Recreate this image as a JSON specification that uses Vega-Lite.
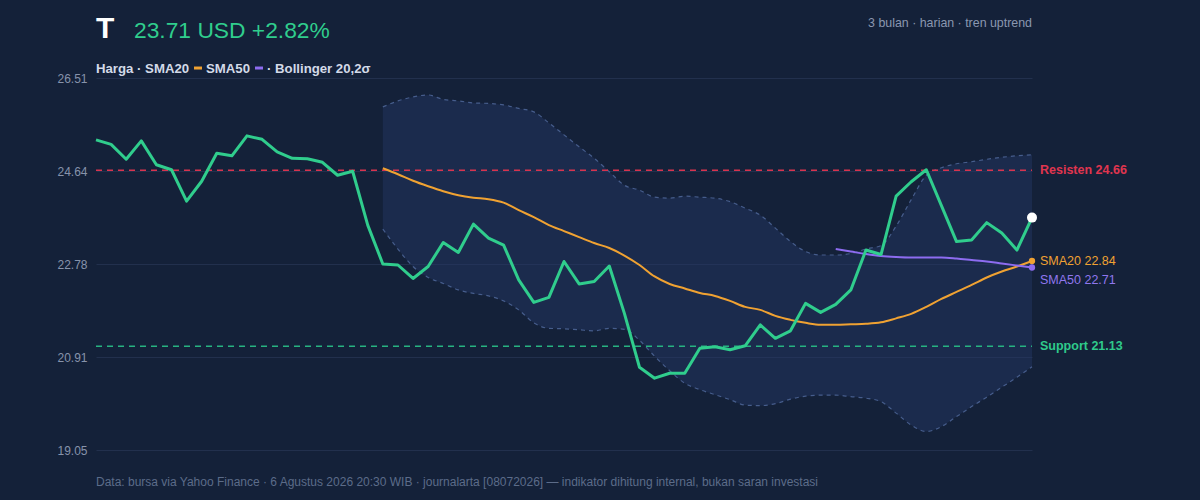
{
  "$schema": "https://vega.github.io/schema/vega-lite/v6.json",
  "width": 936,
  "height": 372,
  "autosize": {"type": "none"},
  "padding": {"left": 96, "top": 78, "right": 168, "bottom": 50},
  "background": "#142139",
  "config": {
    "view": {"stroke": null},
    "font": "Liberation Sans",
    "text": {"font": "Liberation Sans"}
  },
  "datasets": {
    "series": [
      {"i": 0, "price": 25.27},
      {"i": 1, "price": 25.18},
      {"i": 2, "price": 24.88},
      {"i": 3, "price": 25.25},
      {"i": 4, "price": 24.77},
      {"i": 5, "price": 24.67},
      {"i": 6, "price": 24.04},
      {"i": 7, "price": 24.44},
      {"i": 8, "price": 25.0},
      {"i": 9, "price": 24.95},
      {"i": 10, "price": 25.35},
      {"i": 11, "price": 25.28},
      {"i": 12, "price": 25.03},
      {"i": 13, "price": 24.9},
      {"i": 14, "price": 24.89},
      {"i": 15, "price": 24.82},
      {"i": 16, "price": 24.56},
      {"i": 17, "price": 24.64},
      {"i": 18, "price": 23.56},
      {"i": 19, "price": 22.78, "sma20": 24.7, "upper": 25.93, "lower": 23.48},
      {"i": 20, "price": 22.76, "sma20": 24.58, "upper": 26.05, "lower": 23.08},
      {"i": 21, "price": 22.49, "sma20": 24.45, "upper": 26.13, "lower": 22.73},
      {"i": 22, "price": 22.73, "sma20": 24.34, "upper": 26.17, "lower": 22.51},
      {"i": 23, "price": 23.21, "sma20": 24.24, "upper": 26.08, "lower": 22.39},
      {"i": 24, "price": 23.01, "sma20": 24.16, "upper": 26.05, "lower": 22.26},
      {"i": 25, "price": 23.58, "sma20": 24.11, "upper": 26.01, "lower": 22.19},
      {"i": 26, "price": 23.3, "sma20": 24.08, "upper": 26.0, "lower": 22.14},
      {"i": 27, "price": 23.16, "sma20": 24.01, "upper": 25.97, "lower": 22.04},
      {"i": 28, "price": 22.46, "sma20": 23.86, "upper": 25.9, "lower": 21.86},
      {"i": 29, "price": 22.01, "sma20": 23.72, "upper": 25.83, "lower": 21.6},
      {"i": 30, "price": 22.11, "sma20": 23.56, "upper": 25.61, "lower": 21.49},
      {"i": 31, "price": 22.83, "sma20": 23.44, "upper": 25.37, "lower": 21.48},
      {"i": 32, "price": 22.38, "sma20": 23.32, "upper": 25.13, "lower": 21.46},
      {"i": 33, "price": 22.43, "sma20": 23.2, "upper": 24.9, "lower": 21.44},
      {"i": 34, "price": 22.74, "sma20": 23.1, "upper": 24.63, "lower": 21.49},
      {"i": 35, "price": 21.79, "sma20": 22.95, "upper": 24.36, "lower": 21.47},
      {"i": 36, "price": 20.71, "sma20": 22.76, "upper": 24.26, "lower": 21.25},
      {"i": 37, "price": 20.49, "sma20": 22.53, "upper": 24.12, "lower": 20.93},
      {"i": 38, "price": 20.59, "sma20": 22.38, "upper": 24.1, "lower": 20.64},
      {"i": 39, "price": 20.59, "sma20": 22.29, "upper": 24.14, "lower": 20.39},
      {"i": 40, "price": 21.09, "sma20": 22.2, "upper": 24.12, "lower": 20.26},
      {"i": 41, "price": 21.12, "sma20": 22.14, "upper": 24.1, "lower": 20.16},
      {"i": 42, "price": 21.06, "sma20": 22.04, "upper": 24.03, "lower": 20.06},
      {"i": 43, "price": 21.14, "sma20": 21.92, "upper": 23.9, "lower": 19.95},
      {"i": 44, "price": 21.56, "sma20": 21.86, "upper": 23.76, "lower": 19.94},
      {"i": 45, "price": 21.29, "sma20": 21.74, "upper": 23.5, "lower": 19.98},
      {"i": 46, "price": 21.44, "sma20": 21.66, "upper": 23.23, "lower": 20.07},
      {"i": 47, "price": 21.99, "sma20": 21.6, "upper": 23.03, "lower": 20.13},
      {"i": 48, "price": 21.81, "sma20": 21.56, "upper": 22.96, "lower": 20.15},
      {"i": 49, "price": 21.97, "sma20": 21.56, "sma50": 23.08, "upper": 22.96, "lower": 20.15},
      {"i": 50, "price": 22.26, "sma20": 21.57, "sma50": 23.03, "upper": 22.99, "lower": 20.12},
      {"i": 51, "price": 23.06, "sma20": 21.58, "sma50": 22.98, "upper": 23.08, "lower": 20.09},
      {"i": 52, "price": 22.97, "sma20": 21.61, "sma50": 22.94, "upper": 23.15, "lower": 20.02},
      {"i": 53, "price": 24.14, "sma20": 21.69, "sma50": 22.92, "upper": 23.54, "lower": 19.79},
      {"i": 54, "price": 24.43, "sma20": 21.78, "sma50": 22.91, "upper": 24.07, "lower": 19.55},
      {"i": 55, "price": 24.67, "sma20": 21.92, "sma50": 22.91, "upper": 24.56, "lower": 19.42},
      {"i": 56, "price": 23.95, "sma20": 22.08, "sma50": 22.91, "upper": 24.71, "lower": 19.52},
      {"i": 57, "price": 23.23, "sma20": 22.22, "sma50": 22.89, "upper": 24.79, "lower": 19.72},
      {"i": 58, "price": 23.26, "sma20": 22.36, "sma50": 22.86, "upper": 24.83, "lower": 19.92},
      {"i": 59, "price": 23.61, "sma20": 22.51, "sma50": 22.83, "upper": 24.88, "lower": 20.11},
      {"i": 60, "price": 23.4, "sma20": 22.63, "sma50": 22.79, "upper": 24.92, "lower": 20.31},
      {"i": 61, "price": 23.06, "sma20": 22.73, "sma50": 22.75, "upper": 24.95, "lower": 20.51},
      {"i": 62, "price": 23.71, "sma20": 22.84, "sma50": 22.71, "upper": 24.97, "lower": 20.72}
    ]
  },
  "layer": [
    {
      "data": {"name": "series"},
      "transform": [{"filter": "isValid(datum.upper)"}],
      "mark": {"type": "area", "interpolate": "monotone", "color": "#26396a", "opacity": 0.42},
      "encoding": {
        "x": {"field": "i", "type": "quantitative", "scale": {"domain": [0, 62], "nice": false, "zero": false}, "axis": null},
        "y": {
          "field": "lower", "type": "quantitative",
          "scale": {"domain": [19.05, 26.51], "nice": false, "zero": false},
          "axis": {
            "values": [19.05, 20.91, 22.78, 24.64, 26.51],
            "format": ".2f", "title": null, "domain": false, "ticks": false,
            "labelPadding": 9, "labelColor": "#8793ab", "labelFontSize": 12,
            "labelFont": "Liberation Sans", "gridColor": "#22304d", "gridWidth": 1
          }
        },
        "y2": {"field": "upper"}
      }
    },
    {
      "data": {"name": "series"},
      "transform": [{"filter": "isValid(datum.upper)"}],
      "mark": {"type": "line", "interpolate": "monotone", "color": "#465d8c", "strokeWidth": 1.2, "strokeDash": [4, 4]},
      "encoding": {"x": {"field": "i", "type": "quantitative"}, "y": {"field": "upper", "type": "quantitative"}}
    },
    {
      "data": {"name": "series"},
      "transform": [{"filter": "isValid(datum.lower)"}],
      "mark": {"type": "line", "interpolate": "monotone", "color": "#465d8c", "strokeWidth": 1.2, "strokeDash": [4, 4]},
      "encoding": {"x": {"field": "i", "type": "quantitative"}, "y": {"field": "lower", "type": "quantitative"}}
    },
    {
      "data": {"values": [{"label": "Resisten 24.66"}]},
      "mark": {"type": "rule", "color": "#d8344f", "strokeWidth": 1.5, "strokeDash": [6, 5]},
      "encoding": {"x": {"datum": 0, "type": "quantitative"}, "x2": {"datum": 62}, "y": {"datum": 24.66, "type": "quantitative"}}
    },
    {
      "data": {"values": [{"label": "Support 21.13"}]},
      "mark": {"type": "rule", "color": "#27b381", "strokeWidth": 1.5, "strokeDash": [6, 5]},
      "encoding": {"x": {"datum": 0, "type": "quantitative"}, "x2": {"datum": 62}, "y": {"datum": 21.13, "type": "quantitative"}}
    },
    {
      "data": {"name": "series"},
      "transform": [{"filter": "isValid(datum.sma20)"}],
      "mark": {"type": "line", "interpolate": "monotone", "color": "#f0a232", "strokeWidth": 2},
      "encoding": {"x": {"field": "i", "type": "quantitative"}, "y": {"field": "sma20", "type": "quantitative"}}
    },
    {
      "data": {"name": "series"},
      "transform": [{"filter": "isValid(datum.sma50)"}],
      "mark": {"type": "line", "interpolate": "monotone", "color": "#8d6cf0", "strokeWidth": 2},
      "encoding": {"x": {"field": "i", "type": "quantitative"}, "y": {"field": "sma50", "type": "quantitative"}}
    },
    {
      "data": {"name": "series"},
      "mark": {"type": "line", "color": "#30cd8d", "strokeWidth": 3, "strokeJoin": "round"},
      "encoding": {"x": {"field": "i", "type": "quantitative"}, "y": {"field": "price", "type": "quantitative"}}
    },
    {
      "data": {"name": "series"},
      "transform": [{"filter": "datum.i == 62"}],
      "mark": {"type": "point", "filled": true, "color": "#f0a232", "opacity": 1, "size": 40},
      "encoding": {"x": {"field": "i", "type": "quantitative"}, "y": {"field": "sma20", "type": "quantitative"}}
    },
    {
      "data": {"name": "series"},
      "transform": [{"filter": "datum.i == 62"}],
      "mark": {"type": "point", "filled": true, "color": "#8d6cf0", "opacity": 1, "size": 40},
      "encoding": {"x": {"field": "i", "type": "quantitative"}, "y": {"field": "sma50", "type": "quantitative"}}
    },
    {
      "data": {"name": "series"},
      "transform": [{"filter": "datum.i == 62"}],
      "mark": {"type": "point", "filled": true, "color": "#ffffff", "opacity": 1, "size": 100},
      "encoding": {"x": {"field": "i", "type": "quantitative"}, "y": {"field": "price", "type": "quantitative"}}
    },
    {
      "data": {"values": [{"label": "Resisten 24.66"}]},
      "mark": {"type": "text", "align": "left", "baseline": "middle", "dx": 8, "fontSize": 12.5, "fontWeight": "bold", "color": "#e0354f"},
      "encoding": {"x": {"datum": 62, "type": "quantitative"}, "y": {"datum": 24.66, "type": "quantitative"}, "text": {"field": "label"}}
    },
    {
      "data": {"values": [{"label": "SMA20 22.84"}]},
      "mark": {"type": "text", "align": "left", "baseline": "middle", "dx": 8, "fontSize": 12.5, "color": "#f0a232"},
      "encoding": {"x": {"datum": 62, "type": "quantitative"}, "y": {"datum": 22.84, "type": "quantitative"}, "text": {"field": "label"}}
    },
    {
      "data": {"values": [{"label": "SMA50 22.71"}]},
      "mark": {"type": "text", "align": "left", "baseline": "middle", "dx": 8, "dy": 13, "fontSize": 12.5, "color": "#9077ee"},
      "encoding": {"x": {"datum": 62, "type": "quantitative"}, "y": {"datum": 22.71, "type": "quantitative"}, "text": {"field": "label"}}
    },
    {
      "data": {"values": [{"label": "Support 21.13"}]},
      "mark": {"type": "text", "align": "left", "baseline": "middle", "dx": 8, "fontSize": 12.5, "fontWeight": "bold", "color": "#2fca8b"},
      "encoding": {"x": {"datum": 62, "type": "quantitative"}, "y": {"datum": 21.13, "type": "quantitative"}, "text": {"field": "label"}}
    },
    {
      "data": {"values": [{"label": "T"}]},
      "mark": {"type": "text", "align": "left", "baseline": "alphabetic", "fontSize": 30, "fontWeight": "bold", "color": "#ffffff"},
      "encoding": {"x": {"datum": 0, "type": "quantitative"}, "y": {"datum": 27.31, "type": "quantitative"}, "text": {"field": "label"}}
    },
    {
      "data": {"values": [{"label": "23.71 USD +2.82%"}]},
      "mark": {"type": "text", "align": "left", "baseline": "alphabetic", "dx": 38, "fontSize": 22.8, "color": "#30cd8d"},
      "encoding": {"x": {"datum": 0, "type": "quantitative"}, "y": {"datum": 27.31, "type": "quantitative"}, "text": {"field": "label"}}
    },
    {
      "data": {"values": [{"label": "3 bulan · harian · tren uptrend"}]},
      "mark": {"type": "text", "align": "right", "baseline": "alphabetic", "fontSize": 12.4, "color": "#8a97b0"},
      "encoding": {"x": {"datum": 62, "type": "quantitative"}, "y": {"datum": 27.54, "type": "quantitative"}, "text": {"field": "label"}}
    },
    {
      "data": {"values": [{"label": "Harga · SMA20"}]},
      "mark": {"type": "text", "align": "left", "baseline": "alphabetic", "fontSize": 13.2, "fontWeight": "bold", "color": "#d3dae8"},
      "encoding": {"x": {"datum": 0, "type": "quantitative"}, "y": {"datum": 26.62, "type": "quantitative"}, "text": {"field": "label"}}
    },
    {
      "data": {"values": [{"label": "SMA20"}]},
      "mark": {"type": "rule", "color": "#f0a232", "strokeWidth": 3, "xOffset": 98, "x2Offset": 106},
      "encoding": {"x": {"datum": 0, "type": "quantitative"}, "x2": {"datum": 0}, "y": {"datum": 26.71, "type": "quantitative"}}
    },
    {
      "data": {"values": [{"label": "SMA50"}]},
      "mark": {"type": "text", "align": "left", "baseline": "alphabetic", "dx": 110, "fontSize": 13.2, "fontWeight": "bold", "color": "#d3dae8"},
      "encoding": {"x": {"datum": 0, "type": "quantitative"}, "y": {"datum": 26.62, "type": "quantitative"}, "text": {"field": "label"}}
    },
    {
      "data": {"values": [{"label": "SMA50"}]},
      "mark": {"type": "rule", "color": "#8d6cf0", "strokeWidth": 3, "xOffset": 159, "x2Offset": 167},
      "encoding": {"x": {"datum": 0, "type": "quantitative"}, "x2": {"datum": 0}, "y": {"datum": 26.71, "type": "quantitative"}}
    },
    {
      "data": {"values": [{"label": "· Bollinger 20,2σ"}]},
      "mark": {"type": "text", "align": "left", "baseline": "alphabetic", "dx": 171, "fontSize": 13.2, "fontWeight": "bold", "color": "#d3dae8"},
      "encoding": {"x": {"datum": 0, "type": "quantitative"}, "y": {"datum": 26.62, "type": "quantitative"}, "text": {"field": "label"}}
    },
    {
      "data": {"values": [{"label": "Data: bursa via Yahoo Finance · 6 Agustus 2026 20:30 WIB · journalarta [08072026] — indikator dihitung internal, bukan saran investasi"}]},
      "mark": {"type": "text", "align": "left", "baseline": "alphabetic", "fontSize": 12, "color": "#5c6c89"},
      "encoding": {"x": {"datum": 0, "type": "quantitative"}, "y": {"datum": 18.33, "type": "quantitative"}, "text": {"field": "label"}}
    }
  ]
}
